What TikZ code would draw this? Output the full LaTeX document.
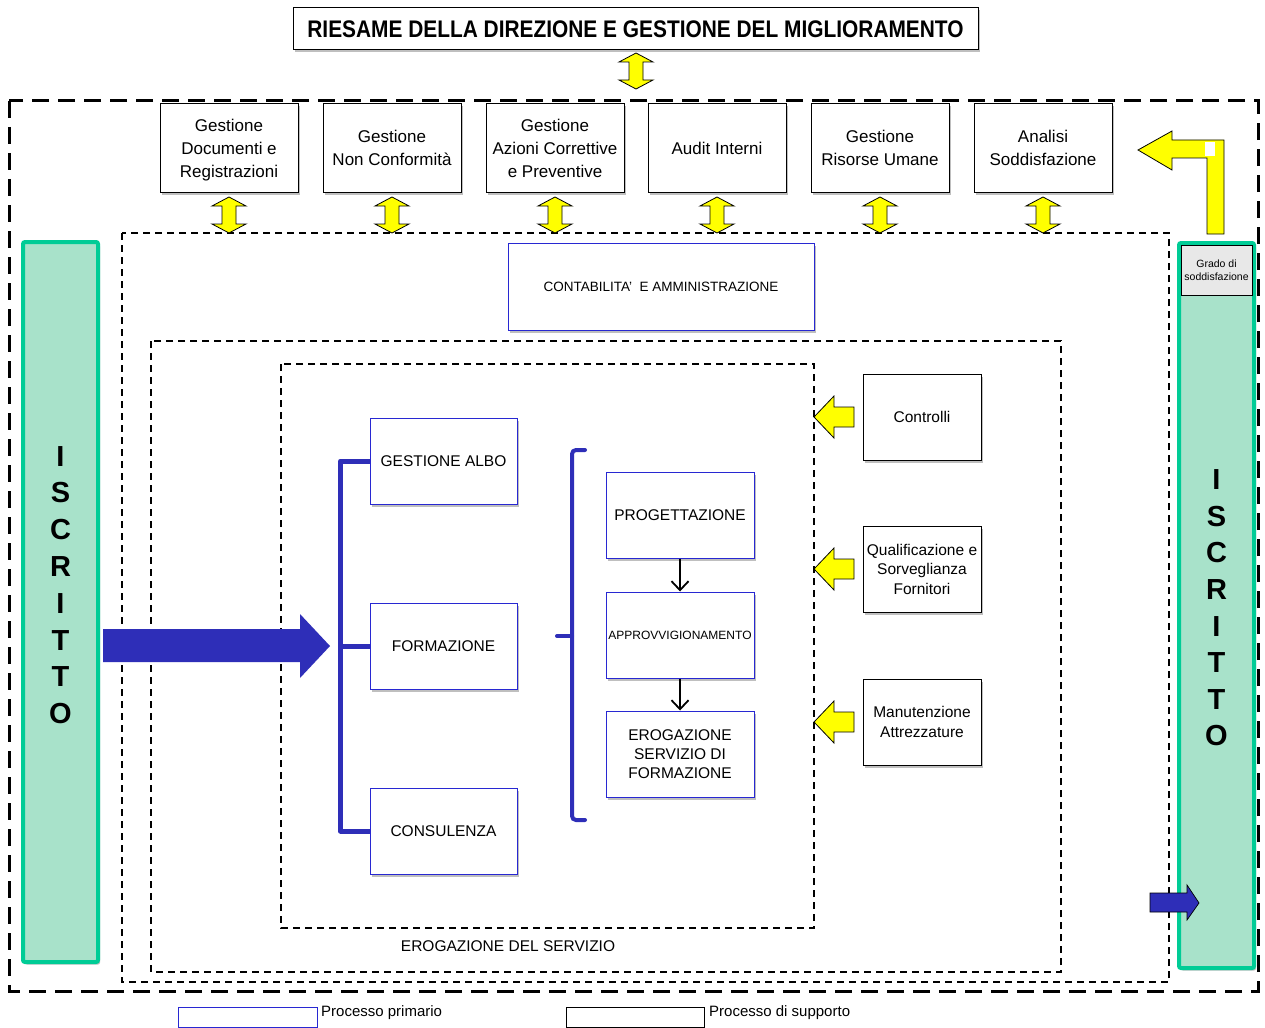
\documentclass[tikz,border=0pt]{standalone}
\usepackage{fontspec}
\setmainfont{Liberation Sans}
\usepackage{graphicx}
\usetikzlibrary{shadows,arrows.meta}
\definecolor{ygreen}{RGB}{168,226,202}
\definecolor{bgreen}{RGB}{0,204,150}
\definecolor{pblue}{RGB}{40,40,210}
\definecolor{bigblue}{RGB}{46,46,184}
\definecolor{yell}{RGB}{255,255,0}
\definecolor{gradofill}{RGB}{232,232,232}
\tikzset{
  shad/.style={drop shadow={shadow xshift=2pt,shadow yshift=-2.5pt,opacity=0.25,fill=black}},
  supbox/.style={draw=black,line width=1pt,fill=white,shad,align=center,inner sep=0pt,
     font=\fontsize{17}{23}\selectfont},
  topbox/.style={supbox,minimum width=138pt,minimum height=88pt,text depth=0pt},
  sidebox/.style={supbox,minimum width=118pt,minimum height=86pt,font=\fontsize{15.5}{19.5}\selectfont},
  primbox/.style={draw=pblue,line width=1pt,fill=white,shad,align=center,inner sep=0pt,
     minimum width=147pt,minimum height=86pt,font=\fontsize{15.5}{19}\selectfont},
  greenbar/.style={draw=bgreen,fill=ygreen,line width=4pt,rounded corners=2pt,shad,inner sep=0pt,
     minimum width=75pt,align=center,font=\fontsize{29}{36.8}\selectfont\bfseries},
  bigdash/.style={line width=3pt,dash pattern=on 17pt off 9pt},
  smalldash/.style={line width=1.4pt,dash pattern=on 7pt off 5pt},
  bluebracket/.style={draw=bigblue,line width=5pt},
  flowarrow/.style={line width=1.2pt,-{Straight Barb[length=9pt,width=17pt,line width=1.8pt]}},
  ydbl/.pic={\path[fill=yell,draw=black,line width=0.8pt] (0,-18) -- (17,-9) -- (7,-9) -- (7,9) -- (17,9) -- (0,18) -- (-17,9) -- (-7,9) -- (-7,-9) -- (-17,-9) -- cycle;},
  yleft/.pic={\path[fill=yell,draw=black,line width=0.8pt] (0,0) -- (20,-21) -- (20,-10) -- (40,-10) -- (40,10) -- (20,10) -- (20,21) -- cycle;}
}
\begin{document}
\begin{tikzpicture}[x=1pt,y=-1pt]
\useasboundingbox (0,0) rectangle (1265,1027);
\fill[white] (0,0) rectangle (1265,1027);

% dashed containers
\draw[bigdash] (9,101) rectangle (1258,991);
\draw[smalldash] (122,233) rectangle (1169,982);
\draw[smalldash] (151,341) rectangle (1061,972);
\draw[smalldash] (281,364) rectangle (814,928);

% title
\node[draw=black,line width=1pt,fill=white,shad,minimum width=685pt,minimum height=42pt,inner sep=0pt,
  font=\fontsize{24}{28}\selectfont\bfseries] (title) at (635.5,29)
  {\scalebox{0.87}[1]{RIESAME DELLA DIREZIONE E GESTIONE DEL MIGLIORAMENTO}};
\pic at (636,71) {ydbl};

% top support boxes
\node[topbox] (t1) at (229,148) {Gestione\\Documenti e\\Registrazioni};
\node[topbox] (t2) at (392,148) {Gestione\\Non Conformità};
\node[topbox] (t3) at (555,148) {Gestione\\Azioni Correttive\\e Preventive};
\node[topbox] (t4) at (717,148) {Audit Interni};
\node[topbox] (t5) at (880,148) {Gestione\\Risorse Umane};
\node[topbox] (t6) at (1043,148) {Analisi\\Soddisfazione};
\foreach \xx in {229,392,555,717,880,1043} \pic at (\xx,215) {ydbl};

% L yellow arrow
\path[fill=yell,draw=black,line width=0.8pt] (1138,150) -- (1172,131) -- (1172,140) -- (1224,140) -- (1224,234) -- (1207,234) -- (1207,158) -- (1172,158) -- (1172,170) -- cycle;
\fill[white] (1205,142) rectangle (1215,156);

% green bars
\node[greenbar,minimum height=720pt] (lbar) at (60.5,602) {};
\node[font=\fontsize{29}{36.8}\selectfont\bfseries,align=center] (ltext) at (60.5,585) {I\\S\\C\\R\\I\\T\\T\\O};
\node[greenbar,minimum height=725pt] (rbar) at (1216.5,605.5) {};
\node[font=\fontsize{29}{36.6}\selectfont\bfseries,align=center] (rtext) at (1216.5,608) {I\\S\\C\\R\\I\\T\\T\\O};
\node[draw=black,line width=0.8pt,fill=gradofill,minimum width=71pt,minimum height=50pt,inner sep=0pt,align=center,
  font=\fontsize{10.5}{13}\selectfont] (grado) at (1216.5,270) {Grado di\\soddisfazione};

% contabilita
\node[primbox,minimum width=306pt,minimum height=87pt,font=\fontsize{13.5}{16}\selectfont] (cont) at (661,286.5) {CONTABILITA'\ \ E AMMINISTRAZIONE};

% primary processes
\node[primbox] (galbo) at (443.5,461) {GESTIONE ALBO};
\node[primbox] (form) at (443.5,646) {FORMAZIONE};
\node[primbox] (cons) at (443.5,831) {CONSULENZA};
\node[primbox,minimum width=148pt] (prog) at (680,515) {PROGETTAZIONE};
\node[primbox,minimum width=148pt,font=\fontsize{12}{14}\selectfont] (appr) at (680,635) {APPROVVIGIONAMENTO};
\node[primbox,minimum width=148pt] (erog) at (680,754) {EROGAZIONE\\SERVIZIO DI\\FORMAZIONE};
\draw[flowarrow] (prog) -- (appr);
\draw[flowarrow] (appr) -- (erog);

% blue bracket
\draw[bluebracket,line join=round] (galbo.west) -- ++(-29,0) |- (cons.west);
\draw[bluebracket] (form.west) -- ++(-29,0);
% curly bracket
\draw[draw=bigblue,line width=4pt,line cap=round,rounded corners=4pt] (585,450) -- (572,450) -- (572,820) -- (585,820);
\draw[draw=bigblue,line width=4pt,line cap=round,rounded corners=3pt] (572,636) -- (557,636);

% big blue arrow
\fill[bigblue] (103,629) -- (300,629) -- (300,614) -- (330,646) -- (300,678) -- (300,662) -- (103,662) -- cycle;
% small blue arrow
\path[fill=bigblue,draw=black,line width=0.7pt] (1150,893) -- (1187,893) -- (1187,885) -- (1199,903) -- (1187,920) -- (1187,912) -- (1150,912) -- cycle;

% side support boxes
\node[sidebox] (ctrl) at (922,417) {Controlli};
\node[sidebox] (qual) at (922,569) {Qualificazione e\\Sorveglianza\\Fornitori};
\node[sidebox] (man) at (922,722) {Manutenzione\\Attrezzature};
\pic at (814,417) {yleft};
\pic at (814,569) {yleft};
\pic at (814,722) {yleft};

\node[font=\fontsize{15.5}{18}\selectfont] (erlab) at (508,946) {EROGAZIONE DEL SERVIZIO};

% legend
\node[draw=pblue,line width=1pt,minimum width=139pt,minimum height=20pt,inner sep=0pt] (lg1) at (247.5,1017) {};
\node[anchor=west,inner sep=0pt,font=\fontsize{15}{18}\selectfont] (lg1t) at (321,1013) {Processo primario};
\node[draw=black,line width=1pt,minimum width=138pt,minimum height=20pt,inner sep=0pt] (lg2) at (635,1017) {};
\node[anchor=west,inner sep=0pt,font=\fontsize{15}{18}\selectfont] (lg2t) at (709,1013) {Processo di supporto};
\end{tikzpicture}
\end{document}
